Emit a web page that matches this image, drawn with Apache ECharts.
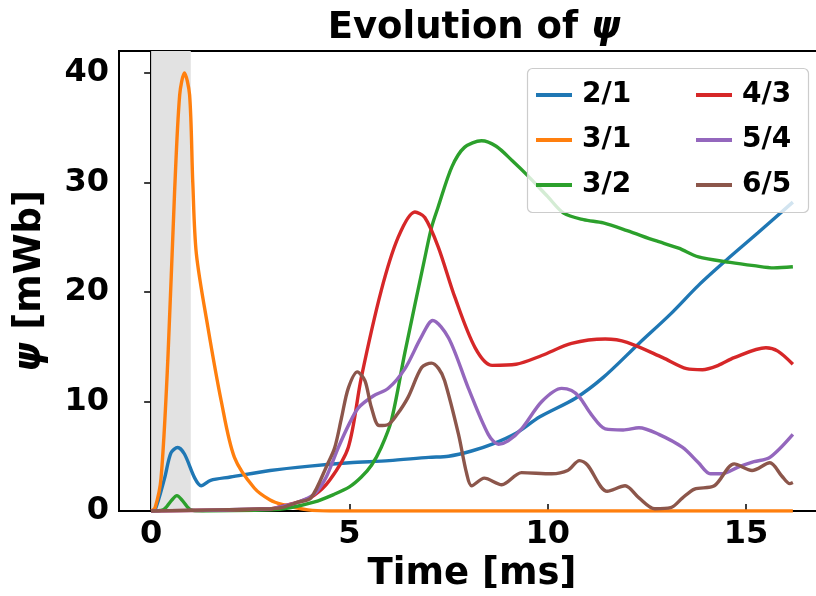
<!DOCTYPE html>
<html>
<head>
<meta charset="utf-8">
<script src="https://cdn.jsdelivr.net/npm/echarts@6/dist/echarts.min.js"></script>
<style>
  html, body { margin: 0; padding: 0; background: #ffffff; }
  #chart { width: 816px; height: 596px; }
</style>
</head>
<body>
<div id="chart"></div>
<script>
// Mode amplitudes psi (mWb) versus time (ms), one time/value pair of arrays per mode.
const time21 = [0, 0.1, 0.34, 0.5, 0.67, 0.84, 1.1, 1.26, 1.5, 2.0, 3.0, 4.0, 5.0, 6.0, 7.0, 7.5, 8.1, 8.6, 9.2, 9.8, 10.7, 11.4, 12.3, 13.1, 13.8, 14.5, 15.3, 16.18];
const psi21  = [0, 0.1, 3.0, 5.3, 5.8, 5.2, 3.0, 2.3, 2.8, 3.1, 3.7, 4.1, 4.4, 4.6, 4.9, 5.0, 5.5, 6.1, 7.1, 8.6, 10.3, 12.2, 15.3, 18.0, 20.6, 22.9, 25.4, 28.2];

const time31 = [0, 0.1, 0.25, 0.42, 0.59, 0.72, 0.84, 0.97, 1.05, 1.14, 1.43, 1.77, 2.1, 2.6, 3.0, 3.3, 3.95, 4.5, 16.18];
const psi31  = [0, 0.3, 3.0, 13.7, 29.0, 38.0, 40.0, 38.0, 30.0, 23.5, 16.8, 10.0, 4.9, 2.1, 1.0, 0.6, 0.1, 0, 0];

const time32 = [0, 0.3, 0.5, 0.65, 0.8, 1.0, 1.3, 3.0, 3.5, 4.1, 4.6, 5.0, 5.3, 5.56, 5.8, 6.06, 6.4, 6.9, 7.07, 7.24, 7.58, 7.9, 8.33, 8.7, 9.1, 9.5, 10.0, 10.4, 10.9, 11.4, 12.0, 12.7, 13.3, 13.8, 14.6, 15.2, 15.7, 16.18];
const psi32  = [0, 0.1, 0.9, 1.4, 0.9, 0.1, 0, 0.1, 0.3, 0.8, 1.5, 2.2, 3.1, 4.2, 5.8, 8.3, 14.5, 23.1, 25.9, 27.8, 31.4, 33.2, 33.8, 33.3, 32.0, 30.6, 28.7, 27.2, 26.6, 26.3, 25.6, 24.7, 24.0, 23.2, 22.7, 22.4, 22.2, 22.3];

const time43 = [0, 3.0, 3.3, 3.7, 4.1, 4.5, 4.97, 5.3, 5.8, 6.23, 6.65, 6.9, 7.24, 7.66, 8.17, 8.6, 9.2, 9.85, 10.6, 11.45, 12.0, 12.9, 13.5, 13.9, 14.3, 14.7, 15.5, 15.8, 16.18];
const psi43  = [0, 0.2, 0.45, 0.8, 1.4, 2.8, 5.8, 12.2, 20.1, 25.0, 27.3, 26.8, 24.1, 19.5, 14.9, 13.3, 13.4, 14.2, 15.3, 15.7, 15.4, 14.0, 13.0, 12.9, 13.3, 14.0, 14.9, 14.6, 13.4];

const time54 = [0, 3.0, 3.28, 3.7, 4.1, 4.4, 4.72, 5.0, 5.22, 5.6, 5.98, 6.4, 6.8, 7.1, 7.5, 8.0, 8.5, 8.76, 9.0, 9.34, 9.85, 10.35, 10.6, 10.8, 11.1, 11.45, 11.9, 12.3, 12.8, 13.4, 13.8, 14.1, 14.4, 14.8, 15.2, 15.6, 16.18];
const psi54  = [0, 0.2, 0.4, 0.8, 1.5, 3.0, 5.8, 8.0, 9.4, 10.5, 11.2, 13.0, 15.8, 17.4, 15.8, 11.2, 7.0, 6.1, 6.4, 7.5, 10.0, 11.2, 11.0, 10.4, 8.8, 7.5, 7.4, 7.6, 7.0, 5.8, 4.4, 3.4, 3.4, 4.0, 4.5, 4.9, 7.0];

const time65 = [0, 3.0, 3.28, 3.7, 4.03, 4.45, 4.63, 4.8, 4.97, 5.2, 5.39, 5.55, 5.75, 5.98, 6.2, 6.48, 6.82, 7.07, 7.25, 7.4, 7.75, 7.95, 8.08, 8.4, 8.84, 9.34, 10.1, 10.5, 10.8, 11.0, 11.5, 11.95, 12.3, 12.7, 13.1, 13.4, 13.7, 14.2, 14.7, 15.15, 15.6, 15.9, 16.1, 16.18];
const psi65  = [0, 0.2, 0.3, 0.8, 1.2, 4.3, 5.8, 8.5, 11.2, 12.7, 11.9, 9.5, 7.8, 7.9, 8.8, 10.4, 13.1, 13.5, 13.0, 11.9, 7.0, 3.5, 2.3, 3.0, 2.4, 3.5, 3.4, 3.7, 4.6, 4.2, 1.8, 2.3, 1.2, 0.2, 0.3, 1.2, 2.0, 2.3, 4.3, 3.7, 4.4, 3.2, 2.5, 2.6];

// Shaded time window (ms)
const shadeStart = 0;
const shadeEnd = 1;

// Axis ticks
const xTicks = [0, 5, 10, 15];
const yTicks = [0, 10, 20, 30, 40];

const modeNames = ['2/1', '3/1', '3/2', '4/3', '5/4', '6/5'];
const modeColors = ['#1f77b4', '#ff7f0e', '#2ca02c', '#d62728', '#9467bd', '#8c564b'];
const modeTimes = [time21, time31, time32, time43, time54, time65];
const modeValues = [psi21, psi31, psi32, psi43, psi54, psi65];

const FONT = 'DejaVu Sans';

function pairs(t, v) {
  return t.map((x, i) => [x, v[i]]);
}

const lineSeries = modeNames.map((name, k) => ({
  name: name,
  type: 'line',
  data: pairs(modeTimes[k], modeValues[k]),
  showSymbol: false,
  smooth: 0.3,
  clip: true,
  lineStyle: { color: modeColors[k], width: 3.4 },
  itemStyle: { color: modeColors[k] },
  emphasis: { disabled: true },
  z: 3 + k
}));

const shadeSeries = {
  name: 'shade',
  type: 'line',
  data: [],
  silent: true,
  z: 1,
  markArea: {
    silent: true,
    itemStyle: { color: '#e2e2e2' },
    data: [[{ xAxis: shadeStart }, { xAxis: shadeEnd }]]
  }
};

const legendCommon = {
  orient: 'vertical',
  top: 80,
  padding: 0,
  itemGap: 15,
  itemWidth: 36,
  itemHeight: 4,
  icon: 'rect',
  selectedMode: false,
  z: 60,
  textStyle: {
    fontFamily: FONT,
    fontWeight: 'bold',
    fontSize: 28,
    lineHeight: 30,
    color: '#000',
    padding: [0, 0, 0, 5]
  }
};

const chart = echarts.init(document.getElementById('chart'), null, { renderer: 'canvas' });

chart.setOption({
  animation: false,
  backgroundColor: '#ffffff',
  title: {
    text: '{a|Evolution of }{b|ψ}',
    left: 469,
    top: 5,
    textAlign: 'center',
    textStyle: {
      rich: {
        a: { fontFamily: FONT, fontWeight: 'bold', fontSize: 37, color: '#000' },
        b: { fontFamily: FONT, fontWeight: 'bold', fontStyle: 'italic', fontSize: 37, color: '#000' }
      }
    }
  },
  legend: [
    Object.assign({}, legendCommon, { left: 536, data: modeNames.slice(0, 3) }),
    Object.assign({}, legendCommon, { left: 696, data: modeNames.slice(3, 6) })
  ],
  graphic: [{
    type: 'rect',
    z: 50,
    silent: true,
    shape: { x: 527.5, y: 68.5, width: 281, height: 144, r: 5 },
    style: { fill: 'rgba(255,255,255,0.8)', stroke: '#cccccc', lineWidth: 1.2 }
  }],
  grid: {
    left: 119,
    right: -9,
    top: 51,
    bottom: 85,
    containLabel: false,
    outerBoundsMode: 'none',
    show: true,
    borderColor: '#000',
    borderWidth: 2,
    backgroundColor: 'transparent'
  },
  xAxis: {
    type: 'value',
    min: -0.81,
    max: 16.99,
    name: 'Time [ms]',
    nameLocation: 'middle',
    nameGap: 42,
    nameTextStyle: { fontFamily: FONT, fontWeight: 'bold', fontSize: 37, color: '#000' },
    axisLine: { show: true, lineStyle: { color: '#000', width: 2 } },
    axisTick: { show: true, inside: true, length: 7, customValues: xTicks, lineStyle: { color: '#000', width: 1.5 } },
    axisLabel: { customValues: xTicks, margin: 8, fontFamily: FONT, fontWeight: 'bold', fontSize: 32, color: '#000' },
    splitLine: { show: false }
  },
  yAxis: {
    type: 'value',
    min: 0,
    max: 42,
    name: '{i|ψ} [mWb]',
    nameLocation: 'middle',
    nameGap: 70,
    nameRotate: 90,
    nameTextStyle: {
      fontFamily: FONT, fontWeight: 'bold', fontSize: 37, color: '#000',
      rich: { i: { fontFamily: FONT, fontWeight: 'bold', fontStyle: 'italic', fontSize: 37, color: '#000' } }
    },
    axisLine: { show: true, lineStyle: { color: '#000', width: 2 } },
    axisTick: { show: true, inside: false, length: 7, customValues: yTicks, lineStyle: { color: '#000', width: 1.5 } },
    axisLabel: { customValues: yTicks, margin: 10, fontFamily: FONT, fontWeight: 'bold', fontSize: 32, color: '#000' },
    splitLine: { show: false }
  },
  series: [shadeSeries].concat(lineSeries)
});
</script>
</body>
</html>
